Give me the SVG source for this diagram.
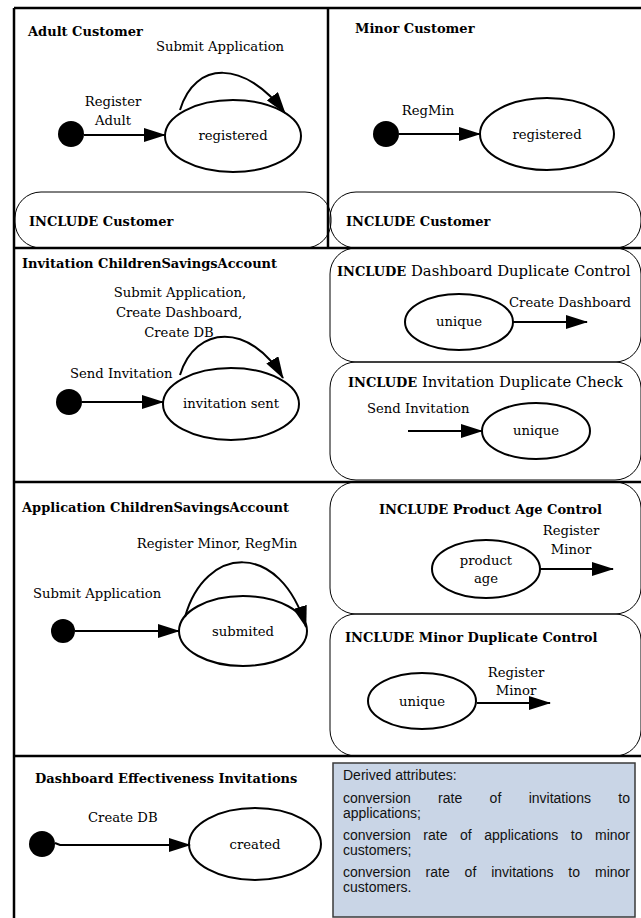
<svg xmlns="http://www.w3.org/2000/svg" width="641" height="918" viewBox="0 0 641 918">
<defs>
<marker id="ah" markerUnits="userSpaceOnUse" markerWidth="22" markerHeight="14" refX="21" refY="7" orient="auto">
<path d="M0,0 L22,7 L0,14 z" fill="#000"/>
</marker>
<style>
text{font-family:"DejaVu Serif","Liberation Serif",serif;font-size:13.2px;fill:#000}
.b{font-weight:bold;font-size:13px}
.big{font-size:14.8px}
.m{text-anchor:middle}
.st{fill:#fff;stroke:#000;stroke-width:2}
.inc{fill:none;stroke:#000;stroke-width:1}
.fr{stroke:#000;stroke-width:2.5;fill:none}
.e{fill:none;stroke:#000;stroke-width:2;marker-end:url(#ah)}
.dot{fill:#000}
.da text{font-family:"Liberation Sans",Arial,sans-serif;font-size:14px;fill:#111}
</style>
</defs>
<rect width="641" height="918" fill="#fff"/>

<g id="frame">
<line class="fr" x1="14" y1="8" x2="641" y2="8"/>
<line class="fr" x1="14" y1="8" x2="14" y2="918"/>
<line class="fr" x1="328" y1="8" x2="328" y2="248"/>
<line class="fr" x1="14" y1="248" x2="641" y2="248"/>
<line class="fr" x1="14" y1="482" x2="641" y2="482"/>
<line class="fr" x1="14" y1="756" x2="641" y2="756"/>
</g>

<g id="adult-customer">
<text class="b" x="28" y="36">Adult Customer</text>
<circle class="dot" cx="71" cy="134" r="13"/>
<ellipse class="st" cx="233" cy="136" rx="68" ry="36"/>
<text class="m" x="233" y="140">registered</text>
</g>
<g id="adult-include">
<rect class="inc" x="15" y="192" width="316" height="56" rx="26" ry="26"/>
<text class="b" x="29" y="226">INCLUDE Customer</text>
</g>

<g id="minor-customer">
<text class="b" x="355" y="33">Minor Customer</text>
<circle class="dot" cx="386" cy="134" r="13"/>
<ellipse class="st" cx="547" cy="134" rx="67" ry="36"/>
<text class="m" x="547" y="139">registered</text>
</g>
<g id="minor-include">
<rect class="inc" x="330" y="192" width="311" height="56" rx="26" ry="26"/>
<text class="b" x="346" y="226">INCLUDE Customer</text>
</g>

<g id="invitation">
<text class="b" x="22" y="268">Invitation ChildrenSavingsAccount</text>
<circle class="dot" cx="69" cy="402" r="13"/>
<ellipse class="st" cx="231" cy="404" rx="68" ry="36"/>
<text class="m" x="231" y="408">invitation sent</text>
</g>

<g id="dashboard-duplicate">
<rect class="inc" x="330" y="248" width="311" height="114" rx="26" ry="26"/>
<text x="337" y="276"><tspan class="b">INCLUDE</tspan><tspan class="big"> Dashboard Duplicate Control</tspan></text>
<ellipse class="st" cx="459" cy="322" rx="54" ry="28"/>
<text class="m" x="459" y="326">unique</text>
</g>

<g id="invitation-duplicate">
<rect class="inc" x="330" y="362" width="311" height="118" rx="26" ry="26"/>
<text x="348" y="387"><tspan class="b">INCLUDE</tspan><tspan class="big"> Invitation Duplicate Check</tspan></text>
<ellipse class="st" cx="536" cy="431" rx="54" ry="28"/>
<text class="m" x="536" y="435">unique</text>
</g>

<g id="application">
<text class="b" x="22" y="512">Application ChildrenSavingsAccount</text>
<circle class="dot" cx="63" cy="631" r="12"/>
<ellipse class="st" cx="243" cy="631" rx="64" ry="35"/>
<text class="m" x="243" y="636">submited</text>
</g>

<g id="product-age">
<rect class="inc" x="330" y="482" width="311" height="132" rx="26" ry="26"/>
<text class="b" x="379" y="514">INCLUDE Product Age Control</text>
<ellipse class="st" cx="486" cy="569" rx="54" ry="29"/>
<text class="m" x="486" y="565">product</text>
<text class="m" x="486" y="583">age</text>
</g>

<g id="minor-duplicate">
<rect class="inc" x="330" y="614" width="311" height="142" rx="26" ry="26"/>
<text class="b" x="345" y="642">INCLUDE Minor Duplicate Control</text>
<ellipse class="st" cx="422" cy="701" rx="54" ry="28"/>
<text class="m" x="422" y="706">unique</text>
</g>

<g id="dashboard-effectiveness">
<text class="b" x="35" y="783">Dashboard Effectiveness Invitations</text>
<circle class="dot" cx="42" cy="844" r="13"/>
<ellipse class="st" cx="255" cy="844" rx="66" ry="36"/>
<text class="m" x="255" y="849">created</text>
</g>

<g id="derived-attributes" class="da">
<rect x="333" y="763" width="302" height="154" fill="#c9d5e6" stroke="#3a3a3a" stroke-width="1.5"/>
<text x="343" y="780">Derived attributes:</text>
<text x="343" y="803">conversion</text><text x="438.1" y="803">rate</text><text x="489.6" y="803">of</text><text x="528.7" y="803">invitations</text><text x="630" y="803" text-anchor="end">to</text>
<text x="343" y="818">applications;</text>
<text x="343" y="840">conversion</text><text x="423.3" y="840">rate</text><text x="460" y="840">of</text><text x="484.3" y="840">applications</text><text x="570.8" y="840">to</text><text x="630" y="840" text-anchor="end">minor</text>
<text x="343" y="855">customers;</text>
<text x="343" y="877">conversion</text><text x="425.6" y="877">rate</text><text x="464.6" y="877">of</text><text x="491.2" y="877">invitations</text><text x="568.3" y="877">to</text><text x="630" y="877" text-anchor="end">minor</text>
<text x="343" y="892">customers.</text>
</g>

<g id="connectors">
<line class="e" x1="84" y1="135" x2="165" y2="135"/>
<text class="m" x="113" y="106">Register</text>
<text class="m" x="113" y="125">Adult</text>
<path class="e" d="M180,110 C195,60 245,60 285,113"/>
<text class="m" x="220" y="51">Submit Application</text>

<line class="e" x1="399" y1="134" x2="480" y2="134"/>
<text class="m" x="428" y="115">RegMin</text>

<line class="e" x1="82" y1="402" x2="163" y2="402"/>
<text x="70" y="378">Send Invitation</text>
<path class="e" d="M180,375 C195,325 250,322 283,378"/>
<text class="m" x="180" y="297">Submit Application,</text>
<text class="m" x="179" y="317">Create Dashboard,</text>
<text class="m" x="179" y="337">Create DB</text>

<line class="e" x1="513" y1="322" x2="587" y2="322"/>
<text x="509" y="307">Create Dashboard</text>

<line class="e" x1="408" y1="431" x2="482" y2="431"/>
<text x="367" y="413">Send Invitation</text>

<line class="e" x1="75" y1="631" x2="179" y2="631"/>
<text x="33" y="598">Submit Application</text>
<path class="e" d="M185,617 C205,545 280,540 306,627"/>
<text class="m" x="217" y="548">Register Minor, RegMin</text>

<line class="e" x1="540" y1="569" x2="613" y2="569"/>
<text class="m" x="571" y="535">Register</text>
<text class="m" x="571" y="554">Minor</text>

<line class="e" x1="477" y1="703" x2="550" y2="703"/>
<text class="m" x="516" y="677">Register</text>
<text class="m" x="516" y="695">Minor</text>

<path class="e" d="M55,843 L60,845 L190,845"/>
<text x="88" y="822">Create DB</text>
</g>
</svg>
